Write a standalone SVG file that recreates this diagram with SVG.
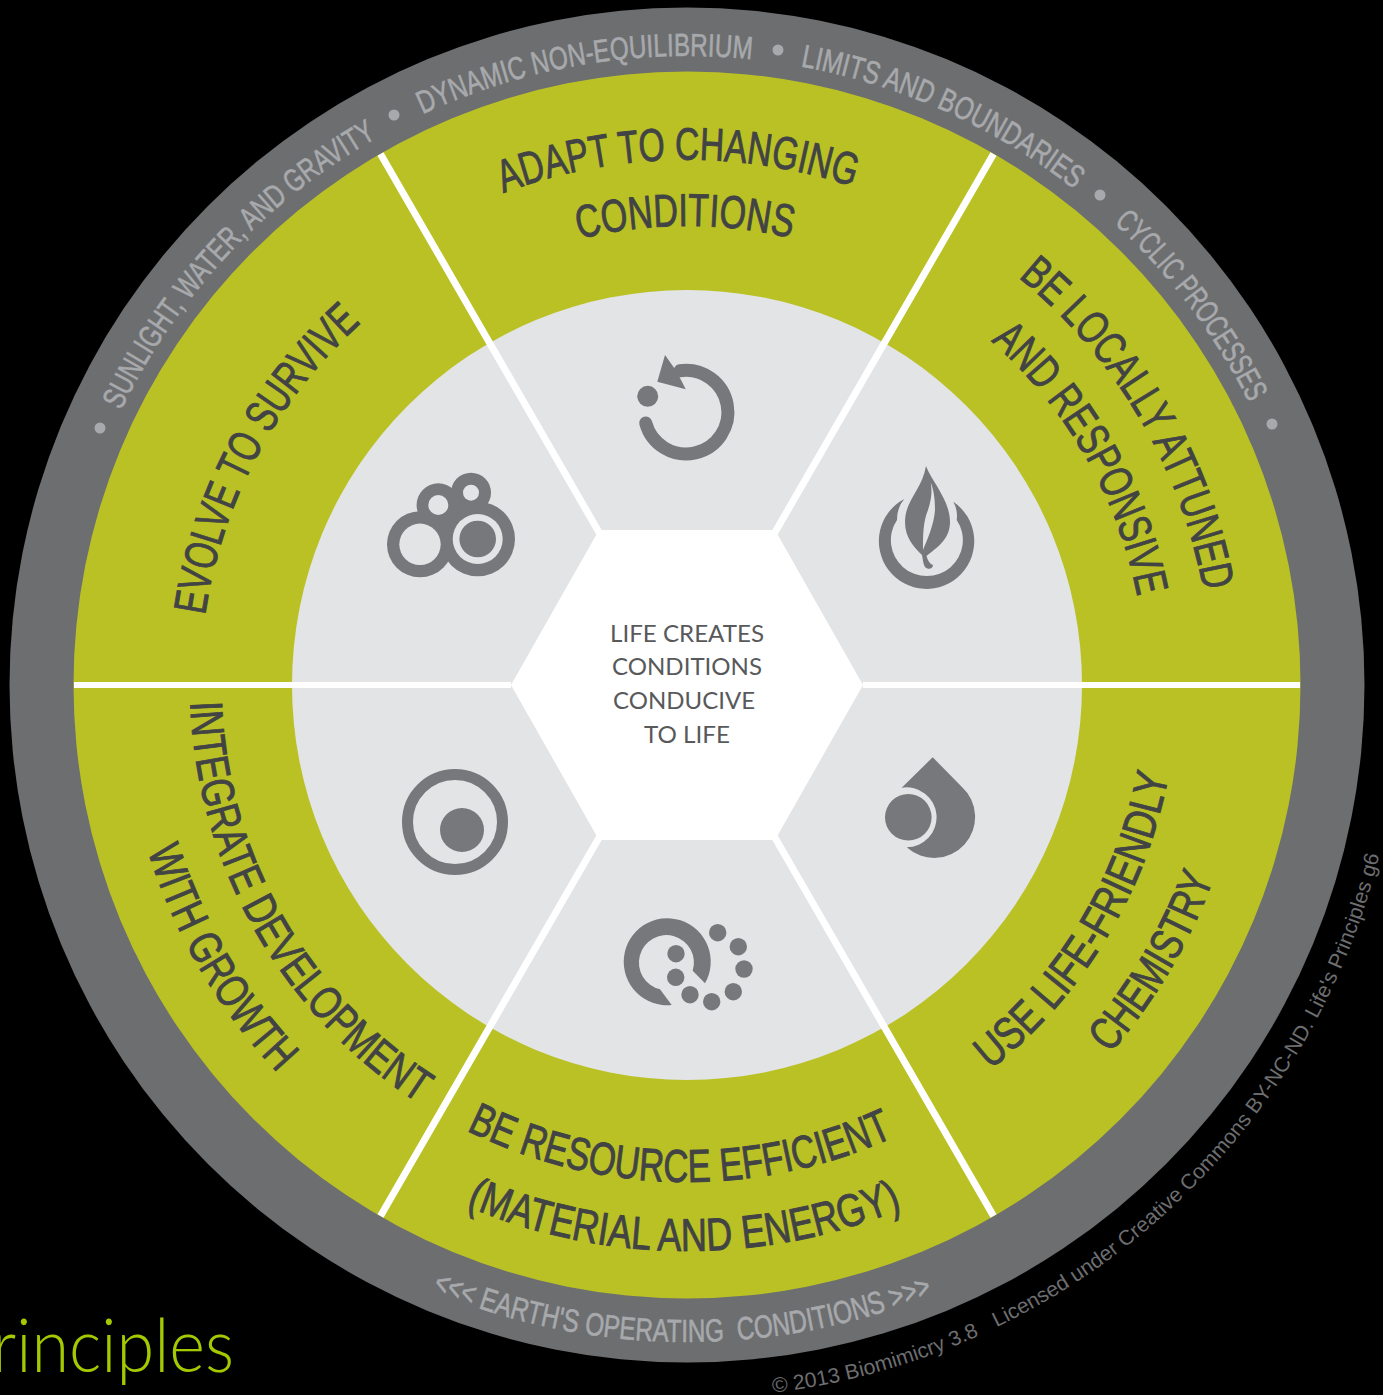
<svg xmlns="http://www.w3.org/2000/svg" width="1383" height="1395" viewBox="0 0 1383 1395">
<style>
.lab{font-family:"Liberation Sans Narrow","Liberation Sans",Arial,sans-serif;font-size:46px;fill:#414344;stroke:#414344;stroke-width:0.9px}
.ring{font-family:"Liberation Sans Narrow","Liberation Sans",Arial,sans-serif;font-size:32px;fill:#a7a9ac;stroke:#a7a9ac;stroke-width:0.6px;white-space:pre}
.ctr{font-family:"Lato","Open Sans",sans-serif;font-size:24px;fill:#58595b}
.ico{fill:#77787b}
.hole{fill:#e3e4e6}
.cp{font-family:"Liberation Sans",Arial,sans-serif;font-size:21px;fill:#6d6e70}
.div{stroke:#fff;stroke-width:7;fill:none}
.dot{fill:#a7a9ac}
</style>
<defs>
<path id="t525" d="M162,685A525,525 0 1 1 1212,685"/>
<path id="t459" d="M228,685A459,459 0 1 1 1146,685"/>
<path id="t487" d="M200,685A487,487 0 1 1 1174,685"/>
<path id="t629" d="M58,685A629,629 0 1 1 1316,685"/>
<path id="b490" d="M197,685A490,490 0 1 0 1177,685"/>
<path id="b561" d="M126,685A561,561 0 1 0 1248,685"/>
<path id="b497" d="M190,685A497,497 0 1 0 1184,685"/>
<path id="b566" d="M121,685A566,566 0 1 0 1253,685"/>
<path id="b564" d="M123,685A564,564 0 1 0 1251,685"/>
<path id="b657" d="M30,685A657,657 0 1 0 1344,685"/>
<path id="b713" d="M-26,685A713,713 0 1 0 1400,685"/>
</defs>
<rect width="1383" height="1395" fill="#000"/>
<g id="outer-ring"><circle cx="687" cy="685" r="677.500" fill="#6d6e70"/></g>
<g id="green-ring"><circle cx="687" cy="685" r="613.500" fill="#bac125"/></g>
<g id="grey-ring"><circle cx="687" cy="685" r="395" fill="#e3e4e6"/></g>
<g id="connectors">
<path class="div" style="stroke-width:6" d="M74,685H511M863,685H1300"/>
<path class="div" d="M380.500,154L600,534M993.500,154L774,534M380.500,1216L600,836M993.500,1216L774,836"/>
</g>
<g id="hub">
<polygon points="511,685 599,530 775,530 863,685 775,840 599,840" fill="#fff"/>
<text class="ctr"><tspan x="610" y="642" textLength="154" lengthAdjust="spacingAndGlyphs">LIFE CREATES</tspan><tspan x="612" y="675" textLength="150" lengthAdjust="spacingAndGlyphs">CONDITIONS</tspan><tspan x="613" y="709" textLength="142" lengthAdjust="spacingAndGlyphs">CONDUCIVE</tspan><tspan x="644" y="743" textLength="86" lengthAdjust="spacingAndGlyphs">TO LIFE</tspan></text>
</g>
<g id="adapt">
<text class="lab"><textPath href="#t525" startOffset="637" textLength="357" lengthAdjust="spacingAndGlyphs">ADAPT TO CHANGING</textPath></text>
<text class="lab"><textPath href="#t459" startOffset="612" textLength="214" lengthAdjust="spacingAndGlyphs">CONDITIONS</textPath></text>
<path d="M645.700,423A41.800,41.800 0 1 0 680,370.800" fill="none" stroke="#77787b" stroke-width="13" stroke-linecap="round"/>
<polygon class="ico" points="665,355 657.300,381.700 685.700,389.300 677,372"/>
<circle class="ico" cx="647.700" cy="396.300" r="10.500"/>
</g>
<g id="locally">
<text class="lab"><textPath href="#t525" startOffset="1183" textLength="372" lengthAdjust="spacingAndGlyphs">BE LOCALLY ATTUNED</textPath></text>
<text class="lab"><textPath href="#t459" startOffset="1053" textLength="300" lengthAdjust="spacingAndGlyphs">AND RESPONSIVE</textPath></text>
<path class="ico" d="M904.300,499A47.700,47.700 0 1 0 953.300,501.700Q958,510 956.700,520A36,36 0 1 1 897,520Q897,507 904.300,499Z"/>
<path class="ico" fill-rule="evenodd" d="M926,466C932,482 950,500 950,522C950,540 936,548 926.500,556C928,561 930,564 933,565C933,569 928,570 925,567C923,564 923,560 922,555C914,547 905,538 905,522C905,500 922,490 926,466ZM930.700,482.700C932,490 932,498 928,510C923,522 923,535 923,550C927,540 934,525 935,510C935,500 934,490 930.700,482.700Z"/>
</g>
<g id="chemistry">
<text class="lab"><textPath href="#b490" startOffset="1097" textLength="352" lengthAdjust="spacingAndGlyphs">USE LIFE-FRIENDLY</textPath></text>
<text class="lab"><textPath href="#b561" startOffset="1360" textLength="205" lengthAdjust="spacingAndGlyphs">CHEMISTRY</textPath></text>
<path class="ico" d="M932.700,757.300L961.700,786.700A40.700,40.700 0 0 1 906.700,847.300A30,30 0 1 0 901.700,787.700Z"/>
<circle class="ico" cx="908.300" cy="817.300" r="23.300"/>
</g>
<g id="resource">
<text class="lab"><textPath href="#b497" startOffset="552" textLength="442" lengthAdjust="spacingAndGlyphs">BE RESOURCE EFFICIENT</textPath></text>
<text class="lab"><textPath href="#b566" startOffset="662" textLength="448" lengthAdjust="spacingAndGlyphs">(MATERIAL AND ENERGY)</textPath></text>
<path class="ico" d="M705,983.300A43.500,43.500 0 1 0 671.700,1005L660,989.300A27.500,27.500 0 1 1 692.700,970.700Z"/>
<g class="ico"><circle cx="717.700" cy="932.700" r="8.700"/><circle cx="738.300" cy="946.700" r="8.700"/><circle cx="744" cy="969" r="8.700"/><circle cx="733.300" cy="991.700" r="8.700"/><circle cx="711.700" cy="1001.700" r="8.700"/><circle cx="690" cy="994.700" r="8.700"/><circle cx="675.700" cy="977.300" r="8.700"/><circle cx="676" cy="953.700" r="8.700"/></g>
</g>
<g id="integrate">
<text class="lab"><textPath href="#b497" startOffset="17" textLength="480" lengthAdjust="spacingAndGlyphs">INTEGRATE DEVELOPMENT</textPath></text>
<text class="lab"><textPath href="#b564" startOffset="168" textLength="260" lengthAdjust="spacingAndGlyphs">WITH GROWTH</textPath></text>
<circle cx="455" cy="822" r="47.500" fill="none" stroke="#77787b" stroke-width="11"/>
<circle class="ico" cx="462" cy="830" r="22"/>
</g>
<g id="evolve">
<text class="lab"><textPath href="#t487" startOffset="70" textLength="338" lengthAdjust="spacingAndGlyphs">EVOLVE TO SURVIVE</textPath></text>
<circle class="ico" cx="420" cy="544.300" r="33"/><circle class="ico" cx="477.700" cy="539" r="37.300"/><circle class="ico" cx="438.300" cy="505" r="21.700"/><circle class="ico" cx="471" cy="492.700" r="20"/>
<circle class="ico" cx="447" cy="525" r="14"/>
<circle class="hole" cx="420" cy="544.300" r="20.700"/><circle class="hole" cx="477.700" cy="539" r="25"/><circle class="ico" cx="477.700" cy="539" r="18.300"/><circle class="hole" cx="438.300" cy="505" r="10"/><circle class="hole" cx="471" cy="492.700" r="8"/>
</g>
<g id="earth-conditions">
<text class="ring"><textPath href="#t629" startOffset="284" textLength="380" lengthAdjust="spacingAndGlyphs">SUNLIGHT, WATER, AND GRAVITY</textPath></text>
<text class="ring"><textPath href="#t629" startOffset="715" textLength="338" lengthAdjust="spacingAndGlyphs">DYNAMIC NON-EQUILIBRIUM</textPath></text>
<text class="ring"><textPath href="#t629" startOffset="1102" textLength="303" lengthAdjust="spacingAndGlyphs">LIMITS AND BOUNDARIES</textPath></text>
<text class="ring"><textPath href="#t629" startOffset="1457" textLength="226" lengthAdjust="spacingAndGlyphs">CYCLIC PROCESSES</textPath></text>
<text class="ring"><textPath href="#b657" startOffset="770" textLength="514" lengthAdjust="spacingAndGlyphs">&lt;&lt;&lt; EARTH'S OPERATING  CONDITIONS &gt;&gt;&gt;</textPath></text>
<circle class="dot" cx="100" cy="428" r="5.500"/><circle class="dot" cx="394" cy="115" r="5.500"/><circle class="dot" cx="778" cy="50" r="5.500"/><circle class="dot" cx="1100" cy="195" r="5.500"/><circle class="dot" cx="1272" cy="424" r="5.500"/>
</g>
<g id="credits">
<text class="cp"><textPath href="#b713" startOffset="1206" textLength="215" lengthAdjust="spacingAndGlyphs">© 2013 Biomimicry 3.8</textPath></text>
<text class="cp"><textPath href="#b713" startOffset="1440" textLength="628" lengthAdjust="spacingAndGlyphs">Licensed under Creative Commons BY-NC-ND. Life's Principles g6</textPath></text>
<text x="-8" y="1372" textLength="242" lengthAdjust="spacingAndGlyphs" style="font-family:Lato,sans-serif;font-weight:300;font-size:74px;fill:#a4c900">rinciples</text>
</g>
</svg>
